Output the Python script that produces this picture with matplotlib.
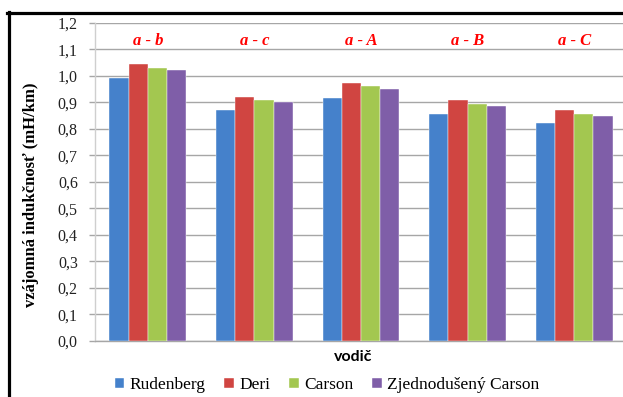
import matplotlib
matplotlib.use("Agg")
import matplotlib.pyplot as plt
import numpy as np
from matplotlib.lines import Line2D
from matplotlib.ticker import FuncFormatter, MultipleLocator

# Mutual inductance of conductor pairs by calculation method
categories = ["a - b", "a - c", "a - A", "a - B", "a - C"]
series_names = ["Rudenberg", "Deri", "Carson", "Zjednodušený Carson"]
rudenberg = [0.990, 0.871, 0.918, 0.856, 0.820]
deri = [1.043, 0.921, 0.974, 0.908, 0.871]
carson = [1.028, 0.908, 0.960, 0.894, 0.856]
carson_simpl = [1.020, 0.901, 0.951, 0.885, 0.848]
colors = ["#4581CB", "#D04541", "#A3C750", "#7F5EA8"]

W, H = 623, 397
fig = plt.figure(figsize=(W / 100, H / 100), dpi=100)
ax = fig.add_axes([94.5 / W, 56 / H, 533 / W, 318.3 / H])

x = np.arange(len(categories))
bw = 0.72 / 4
series = [rudenberg, deri, carson, carson_simpl]
bars = []
for i, (vals, c, name) in enumerate(zip(series, colors, series_names)):
    b = ax.bar(x + (i - 1.5) * bw, vals, width=bw, color=c, label=name,
               edgecolor="white", linewidth=0.3, zorder=3)
    bars.append(b)

ax.set_xlim(-0.5, len(categories) - 0.5)
ax.set_ylim(0, 1.2)
ax.yaxis.set_major_locator(MultipleLocator(0.1))
ax.yaxis.set_major_formatter(FuncFormatter(lambda v, p: f"{v:.1f}".replace(".", ",")))
ax.set_xticks([])
ax.grid(axis="y", color="#A6A6A6", linewidth=1.0, zorder=0)
for s in ["top", "right"]:
    ax.spines[s].set_visible(False)
ax.spines["left"].set_color("#CFCFCF")
ax.spines["bottom"].set_color("#A6A6A6")
ax.spines["left"].set_linewidth(1.0)
ax.spines["bottom"].set_linewidth(1.0)
ax.tick_params(axis="y", length=4, width=1, color="#A6A6A6", pad=8,
               labelsize=11.5, labelcolor="#222222")
for lab in ax.get_yticklabels():
    lab.set_fontfamily("Liberation Serif")

# pair labels above each group
for xi, cat in zip(x, categories):
    ax.text(xi, 1.132, cat, color="#FF0000", ha="center", va="center",
            fontsize=12, fontstyle="italic", fontweight="bold",
            family="Liberation Serif")

fig.text(31 / W, 1 - 195 / H, "vzájomná indukčnosť (mH/km)", rotation=90,
         ha="center", va="center", fontsize=12, fontweight="bold",
         family="Liberation Serif")
fig.text(353 / W, 1 - 357 / H, "vodič", ha="center", va="center",
         fontsize=11.5, fontweight="bold", family="Lato")

leg = fig.legend(handles=bars, labels=series_names, loc="center",
                 bbox_to_anchor=(327 / W, 1 - 385 / H), ncol=4, frameon=False,
                 prop={"family": "Liberation Serif", "size": 12.5},
                 handlelength=0.55, handleheight=0.55, handletextpad=0.3,
                 columnspacing=1.1, borderaxespad=0)

# outer chart border
fig.add_artist(Line2D([7 / W, 1], [1 - 12.5 / H, 1 - 12.5 / H],
                      transform=fig.transFigure, color="black", linewidth=2.3))
fig.add_artist(Line2D([8.5 / W, 8.5 / W], [0, 1 - 11.5 / H],
                      transform=fig.transFigure, color="black", linewidth=2.3))

fig.savefig("out.png", dpi=100)
